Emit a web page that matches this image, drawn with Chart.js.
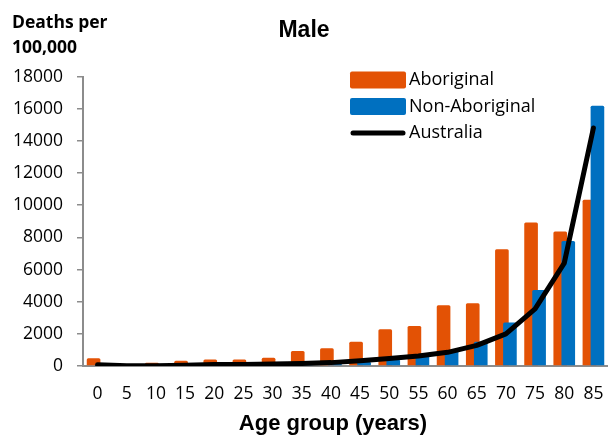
<!DOCTYPE html>
<html>
<head>
<meta charset="utf-8">
<title>Male deaths per 100,000</title>
<script src="https://cdn.jsdelivr.net/npm/chart.js@4.4.1/dist/chart.umd.min.js"></script>
<style>
html, body { margin: 0; padding: 0; background: #fff; overflow: hidden; }
#wrap { position: relative; width: 608px; height: 435px; }
</style>
</head>
<body>
<div id="wrap"><canvas id="maleChart"></canvas></div>
<script>
// age groups (years)
const ages = ['0', '5', '10', '15', '20', '25', '30', '35', '40', '45', '50', '55', '60', '65', '70', '75', '80', '85'];
// deaths per 100,000
const aboriginal = [480, 80, 200, 330, 410, 410, 520, 930, 1100, 1510, 2280, 2490, 3780, 3900, 7260, 8920, 8360, 10340];
const nonAboriginal = [100, 15, 12, 40, 80, 90, 110, 140, 190, 270, 400, 620, 950, 1510, 2700, 4730, 7780, 16190];
const australia = [80, 20, 15, 50, 90, 100, 120, 160, 210, 320, 460, 620, 850, 1280, 2000, 3550, 6400, 14800];
const seriesNames = ['Aboriginal', 'Non-Aboriginal', 'Australia'];
const yMax = 18000;
const yStep = 2000;

const chartTitle = 'Male';
const yTitle = ['Deaths per', '100,000'];
const xTitle = 'Age group (years)';

const ORANGE = '#e35205';
const BLUE = '#0070c0';
const AXIS = '#8c8c8c';
const tickFont = { family: '"Open Sans"', size: 17.5 };

// orange bars sit left of blue ones, but blue overlaps them: draw orange first
const barOrder = {
    id: 'barOrder',
    beforeDatasetDraw(chart, args) {
        if (args.index === 1) {
            chart.getDatasetMeta(0).controller.draw();
        }
        if (args.index === 0) return false;
    }
};

// axis titles and legend inside the plot
const extraText = {
    id: 'extraText',
    afterDraw(chart) {
        const ctx = chart.ctx;
        ctx.save();
        ctx.fillStyle = '#000';
        ctx.textBaseline = 'middle';
        ctx.textAlign = 'left';
        ctx.font = 'bold 17.5px "Open Sans"';
        ctx.fillText(yTitle[0], 12, 23);
        ctx.fillText(yTitle[1], 12, 48);

        ctx.font = 'bold 22px "Liberation Sans", Arial';
        ctx.textAlign = 'center';
        ctx.fillText(xTitle, 333, 424);

        // legend
        ctx.textAlign = 'left';
        ctx.font = '18px "Open Sans"';
        chart.data.datasets.forEach((ds, i) => {
            const y = 80 + i * 26.5;
            if (ds.type === 'line') {
                ctx.strokeStyle = ds.borderColor;
                ctx.lineWidth = 5;
                ctx.lineCap = 'round';
                ctx.beginPath();
                ctx.moveTo(353, y);
                ctx.lineTo(403, y);
                ctx.stroke();
            } else {
                ctx.fillStyle = ds.backgroundColor;
                ctx.beginPath();
                ctx.roundRect(350, y - 8.5, 56, 17, 2);
                ctx.fill();
            }
            ctx.fillStyle = '#000';
            ctx.fillText(ds.label, 409, y);
        });
        ctx.restore();
    }
};

new Chart(document.getElementById('maleChart'), {
    type: 'bar',
    data: {
        labels: ages,
        datasets: [{
            label: seriesNames[0],
            data: aboriginal,
            backgroundColor: ORANGE,
            borderRadius: 1.5,
            categoryPercentage: 0.55,
            barPercentage: 1.7,
            order: 1
        }, {
            label: seriesNames[1],
            data: nonAboriginal,
            backgroundColor: BLUE,
            borderRadius: 1.5,
            categoryPercentage: 0.55,
            barPercentage: 1.7,
            order: 2
        }, {
            type: 'line',
            label: seriesNames[2],
            data: australia,
            borderColor: '#000',
            backgroundColor: '#000',
            borderWidth: 5,
            borderCapStyle: 'round',
            borderJoinStyle: 'round',
            pointRadius: 0,
            tension: 0,
            order: 0
        }]
    },
    options: {
        responsive: true,
        maintainAspectRatio: false,
        animation: false,
        layout: { padding: 0 },
        plugins: {
            legend: { display: false },
            tooltip: { enabled: false },
            title: {
                display: true,
                text: chartTitle,
                color: '#000',
                font: { family: '"Liberation Sans", Arial', size: 23, weight: 'bold' },
                padding: { top: 17, bottom: 32 }
            }
        },
        scales: {
            x: {
                offset: true,
                grid: { display: true, drawOnChartArea: false, drawTicks: false },
                border: { color: AXIS, width: 2 },
                ticks: { font: tickFont, color: '#000', padding: 18, maxRotation: 0, autoSkip: false },
                afterFit(scale) {
                    scale.height = 69;
                    scale.paddingLeft = 0;
                    scale.paddingRight = 0;
                }
            },
            y: {
                min: 0,
                max: yMax,
                grid: { drawOnChartArea: false, drawTicks: true, tickLength: 6, color: AXIS, lineWidth: 1.5 },
                border: { color: AXIS, width: 2 },
                ticks: {
                    stepSize: yStep,
                    font: tickFont,
                    color: '#000',
                    padding: 14,
                    callback: (v) => String(v)
                },
                afterFit(scale) { scale.width = 83; }
            }
        }
    },
    plugins: [barOrder, extraText]
});
</script>
</body>
</html>
